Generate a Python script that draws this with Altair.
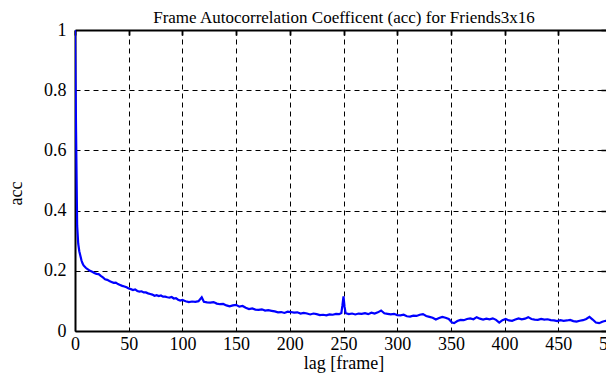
import altair as alt
import pandas as pd

lags = [0, 1, 2, 3, 4, 5, 6, 7, 8, 10, 12, 14, 16, 18, 20, 22, 24, 26, 28, 30,
        32, 34, 36, 38, 40, 42, 44, 46, 48, 50, 52, 54, 56, 58, 60, 62, 64, 66, 68, 70,
        72, 74, 76, 78, 80, 82, 84, 86, 88, 90, 92, 94, 96, 98, 100,
        103, 106, 109, 112, 115, 118, 120, 123, 126, 129, 132, 135, 138, 141, 144, 147,
        150, 153, 156, 159, 162, 165, 168, 171, 174, 177, 180, 183, 186, 189, 192, 195,
        198, 201, 204, 207, 210, 213, 216, 219, 222, 225, 228, 231, 234, 237, 240, 243,
        246, 248, 249, 250, 251, 252, 255, 258, 261, 264, 267, 270, 273, 276, 279, 282,
        285, 288, 291, 294, 297, 300, 303, 306, 309, 312, 315, 318, 321, 324, 327, 330,
        333, 336, 339, 342, 345, 348, 351, 353, 356, 359, 362, 365, 368, 371, 374, 377,
        380, 383, 386, 389, 392, 395, 398, 401, 404, 407, 410, 413, 416, 419, 422, 425,
        428, 431, 434, 437, 440, 443, 446, 449, 452, 455, 458, 461, 464, 467, 470, 473,
        476, 479, 482, 485, 488, 491, 494, 497, 500]

acc = [1.0, 0.66, 0.35, 0.29, 0.265, 0.25, 0.235, 0.225, 0.218, 0.21, 0.205, 0.2, 0.197, 0.193, 0.19, 0.189, 0.183, 0.178, 0.172, 0.17,
       0.166, 0.163, 0.16, 0.161, 0.156, 0.153, 0.150, 0.148, 0.145, 0.141, 0.139, 0.136, 0.138, 0.133, 0.131, 0.132, 0.128, 0.128, 0.125, 0.123,
       0.121, 0.117, 0.119, 0.116, 0.118, 0.114, 0.114, 0.112, 0.111, 0.113, 0.108, 0.109, 0.104, 0.101, 0.103,
       0.099, 0.096, 0.098, 0.097, 0.099, 0.112, 0.097, 0.095, 0.094, 0.096, 0.091, 0.089, 0.090, 0.085, 0.082, 0.085,
       0.087, 0.081, 0.083, 0.077, 0.073, 0.075, 0.071, 0.070, 0.072, 0.068, 0.069, 0.067, 0.065, 0.062, 0.063, 0.060,
       0.064, 0.063, 0.061, 0.062, 0.058, 0.060, 0.058, 0.055, 0.058, 0.056, 0.053, 0.054, 0.052, 0.055, 0.054, 0.057,
       0.056, 0.060, 0.085, 0.115, 0.080, 0.059, 0.056, 0.058, 0.055, 0.058, 0.057, 0.059, 0.056, 0.061, 0.058, 0.062,
       0.068, 0.059, 0.057, 0.055, 0.057, 0.053, 0.052, 0.054, 0.049, 0.048, 0.051, 0.050, 0.054, 0.056, 0.050, 0.047,
       0.044, 0.038, 0.043, 0.047, 0.044, 0.040, 0.028, 0.026, 0.033, 0.037, 0.036, 0.040, 0.042, 0.039, 0.046, 0.041,
       0.038, 0.041, 0.039, 0.042, 0.037, 0.028, 0.036, 0.040, 0.035, 0.034, 0.038, 0.042, 0.039, 0.041, 0.046, 0.040,
       0.038, 0.037, 0.040, 0.038, 0.039, 0.036, 0.035, 0.033, 0.036, 0.034, 0.035, 0.037, 0.033, 0.031, 0.034, 0.036,
       0.040, 0.047, 0.038, 0.028, 0.026, 0.031, 0.034, 0.032, 0.033]

x_ticks = [0, 50, 100, 150, 200, 250, 300, 350, 400, 450, 500]
y_ticks = [0, 0.2, 0.4, 0.6, 0.8, 1]

TITLE = "Frame Autocorrelation Coefficent (acc) for Friends3x16"

df = pd.DataFrame({"lag": lags, "acc": acc})

FONT = "Liberation Serif"
XRANGE = 537  # full x extent of the plot; its right end falls just past the visible page

xscale = alt.Scale(domain=[0, 500], range=[0, XRANGE], nice=False, zero=False)
yscale = alt.Scale(domain=[0, 1], nice=False, zero=False)

grid_kw = dict(grid=True, gridColor="black", gridDash=[5, 4], gridWidth=1, gridOpacity=1)
lab_kw = dict(labelFont=FONT, labelFontSize=18, labelColor="black", labelFlush=False, labelOverlap=False,
              titleFont=FONT, titleFontSize=18, titleFontWeight="normal", titleColor="black")
tick_kw = dict(title=None, labels=False, offset=-5, tickSize=5, tickColor="black", tickWidth=1.5,
               domain=False, grid=False)
dom_kw = dict(domain=True, domainColor="black", domainWidth=2, ticks=False, tickSize=0)

main = alt.Chart(df).mark_line(color="#0000ff", strokeWidth=2.2, clip=True).encode(
    x=alt.X("lag:Q", scale=xscale,
            axis=alt.Axis(values=x_ticks, format="d", title="lag [frame]", labelPadding=4,
                          titlePadding=1, **grid_kw, **lab_kw, **dom_kw)),
    y=alt.Y("acc:Q", scale=yscale,
            axis=alt.Axis(values=y_ticks, format="~g", title="acc", labelPadding=9,
                          titlePadding=18, titleY=163, **grid_kw, **lab_kw, **dom_kw)),
)

ticks_bl = alt.Chart(df).mark_line(opacity=0).encode(
    x=alt.X("lag:Q", scale=xscale, axis=alt.Axis(values=x_ticks, **tick_kw)),
    y=alt.Y("acc:Q", scale=yscale, axis=alt.Axis(values=y_ticks, **tick_kw)),
)

# top border carries the chart title
top_lab = dict(lab_kw, titleFontSize=17)
top_dom = alt.Chart(df).mark_line(opacity=0).encode(
    x=alt.X("lag:Q", scale=xscale,
            axis=alt.Axis(orient="top", values=x_ticks, title=TITLE, labels=False, grid=False,
                          titleBaseline="alphabetic", titlePadding=8, **top_lab, **dom_kw)),
    y=alt.Y("acc:Q", scale=yscale, axis=None),
)

top_ticks = alt.Chart(df).mark_line(opacity=0).encode(
    x=alt.X("lag:Q", scale=xscale, axis=alt.Axis(orient="top", values=x_ticks, **tick_kw)),
    y=alt.Y("acc:Q", scale=yscale, axis=None),
)

chart = alt.layer(main, ticks_bl, top_dom, top_ticks).resolve_axis(
    x="independent", y="independent"
).properties(
    width=531,
    height=301,
    padding={"left": 67, "top": 22, "right": 0, "bottom": 44},
    autosize=alt.AutoSizeParams(type="none"),
).configure_view(stroke=None).configure(background="white")

chart.save("out.html", embed_options={"renderer": "svg", "actions": False})
